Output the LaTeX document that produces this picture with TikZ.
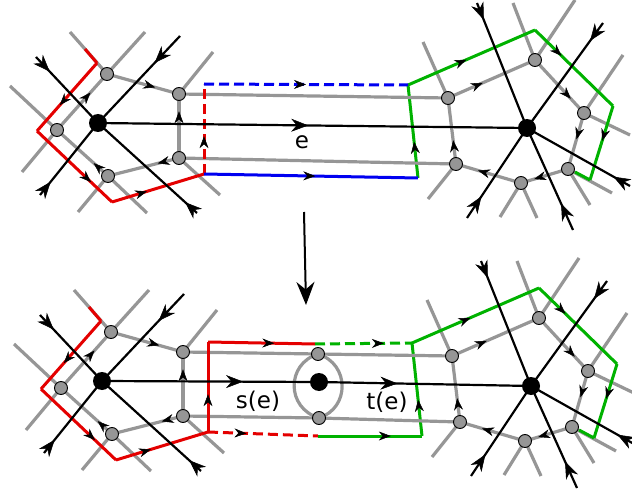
\documentclass[tikz,border=0pt]{standalone}
\usepackage{fontspec}
\setmainfont{DejaVu Sans}
\usetikzlibrary{arrows.meta,decorations.markings}
\definecolor{lgray}{RGB}{150,150,150}
\definecolor{cred}{RGB}{228,0,0}
\definecolor{cgreen}{RGB}{0,178,0}
\definecolor{cblue}{RGB}{0,0,240}
\begin{document}
\begin{tikzpicture}[x=1pt,y=-1pt,
	gline/.style={lgray,line width=3.2pt},
	cline/.style={line width=3pt},
	dashes/.style={dash pattern=on 10pt off 5pt},
	midarr/.style={postaction={decorate,decoration={markings,mark=at position #1 with {\arrow{Stealth[length=12pt,width=9pt,line width=0.5pt,color=black]}}}}},
	ray/.style={black,line width=2.2pt,postaction={decorate,decoration={markings,mark=at position #1 with {\arrow{Stealth[length=17pt,width=13pt,line width=0.5pt]}}}}},
	gnode/.style={circle,draw=black,line width=0.9pt,fill=lgray,inner sep=0pt,minimum size=13pt},
	bnode/.style={circle,fill=black,inner sep=0pt,minimum size=18pt},
	lab/.style={font=\fontsize{23}{26}\selectfont,inner sep=0pt}]
	\useasboundingbox (0,0) rectangle (632,492);
	% both pictures: the two vertices and the faces around them
	\foreach \p/\dx/\dy in {t/0/0,b/4/258}{
	\begin{scope}[shift={(\dx,\dy)}]
		\coordinate (L\p) at (98,123);
		\coordinate (R\p) at (527,128);
		\coordinate (a1\p) at (107,74);  \coordinate (a2\p) at (57,130);
		\coordinate (a3\p) at (108,176); \coordinate (a4\p) at (179,94);
		\coordinate (a5\p) at (179,158);
		\coordinate (b1\p) at (448,98);  \coordinate (b2\p) at (535,60);
		\coordinate (b3\p) at (584,113); \coordinate (b4\p) at (568,169);
		\coordinate (b5\p) at (521,183); \coordinate (b6\p) at (456,164);
		% loose ends
		\coordinate (s1\p) at (70,32);   \coordinate (s2\p) at (145,32);
		\coordinate (s3\p) at (10,86);   \coordinate (s4\p) at (22,172);
		\coordinate (s5\p) at (78,212);  \coordinate (s6\p) at (147,213);
		\coordinate (s7\p) at (213,52);  \coordinate (s8\p) at (220,195);
		\coordinate (t1\p) at (423,42);  \coordinate (t2\p) at (513,3);
		\coordinate (t3\p) at (575,0);   \coordinate (t4\p) at (623,55);
		\coordinate (t5\p) at (630,135); \coordinate (t6\p) at (612,193);
		\coordinate (t7\p) at (590,205); \coordinate (t8\p) at (500,217);
		\coordinate (t9\p) at (537,218); \coordinate (t10\p) at (428,199);
		\coordinate (n1\p) at (36,57);   \coordinate (n2\p) at (180,36);
		\coordinate (n3\p) at (40,195);  \coordinate (n4\p) at (197,213);
		\coordinate (k1\p) at (477,3);   \coordinate (k2\p) at (603,23);
		\coordinate (k3\p) at (630,186); \coordinate (k4\p) at (573,230);
		\coordinate (k5\p) at (467,218);
		% contours
		\coordinate (r0\p) at (85,49);   \coordinate (r1\p) at (97,63);
		\coordinate (r2\p) at (37,131);  \coordinate (r3\p) at (112,202);
		\coordinate (r4\p) at (204,174); \coordinate (r5\p) at (204,84);
		\coordinate (g0\p) at (408,85);  \coordinate (g1\p) at (535,30);
		\coordinate (g2\p) at (613,106); \coordinate (g3\p) at (590,180);
		\coordinate (g4\p) at (575,172); \coordinate (g5\p) at (418,178);
	\end{scope}
	% gray graph
	\foreach \u/\v in {a1/s1,a1/s2,a2/s3,a2/s4,a3/s5,a3/s6,a4/s7,a5/s8,
		b1/t1,b2/t2,b2/t3,b3/t4,b3/t5,b4/t6,b4/t7,b5/t8,b5/t9,b6/t10}
		\draw[gline] (\u\p) -- (\v\p);
	\foreach \u/\v/\q in {a1/a4/0.67,a5/a4/0.73,a5/a3/0.3,a3/a2/0.28,a2/a1/0.67,
		b1/b2/0.4,b2/b3/0.73,b3/b4/0.47,b4/b5/0.72,b5/b6/0.66,b6/b1/0.36}
		\draw[gline,midarr=\q] (\u\p) -- (\v\p);
	% red and green boundaries
	\draw[cline,cred] (r0\p) -- (r1\p);
	\draw[cline,cred,midarr=0.62] (r1\p) -- (r2\p);
	\draw[cline,cred,midarr=0.72] (r2\p) -- (r3\p);
	\draw[cline,cred,midarr=0.38] (r3\p) -- (r4\p);
	\draw[cline,cgreen,midarr=0.46] (g0\p) -- (g1\p);
	\draw[cline,cgreen,midarr=0.34] (g1\p) -- (g2\p);
	\draw[cline,cgreen,midarr=0.47] (g2\p) -- (g3\p);
	\draw[cline,cgreen] (g3\p) -- (g4\p);
	\draw[cline,cgreen,midarr=0.39] (g5\p) -- (g0\p);
	% black edges
	\foreach \c/\o/\d in {L/n1/20pt,L/n2/37pt,L/n3/17pt,L/n4/16pt,
		R/k1/18pt,R/k2/22pt,R/k3/19pt,R/k4/29pt,R/k5/26pt}
		\draw[ray=\d] (\o\p) -- (\c\p);
	}
	% top: the edge e
	\draw[gline] (a4t) -- (b1t);
	\draw[gline] (a5t) -- (b6t);
	\draw[cline,cred,dashes,midarr=0.42] (r4t) -- (r5t);
	\draw[cline,cblue,dashes,midarr=0.5] (r5t) -- (g0t);
	\draw[cline,cblue,midarr=0.52] (r4t) -- (g5t);
	\draw[ray=0.49] (Lt) -- (Rt);
	\node[lab] (elab) at (302,142) {e};
	% arrow between
	\coordinate (from) at (304,212);
	\coordinate (to) at (306,305);
	\draw[line width=2pt,-{Stealth[length=23pt,width=18pt]}] (from) -- (to);
	% bottom: the edge split
	\coordinate (M) at (319,382);
	\coordinate (mu) at (318,354);
	\coordinate (md) at (319,418);
	\coordinate (cu) at (315,344);
	\coordinate (cd) at (318,436);
	\draw[gline] (a4b) -- (mu) -- (b1b);
	\draw[gline] (a5b) -- (md) -- (b6b);
	\draw[gline] (mu) .. controls (286,364) and (286,408) .. (md);
	\draw[gline] (mu) .. controls (350,364) and (350,408) .. (md);
	\draw[cline,cred,midarr=0.42] (r4b) -- (r5b);
	\draw[cline,cred,midarr=0.62] (r5b) -- (cu);
	\draw[cline,cgreen,dashes,midarr=0.71] (cu) -- (g0b);
	\draw[cline,cred,dashes,midarr=0.35] (r4b) -- (cd);
	\draw[cline,cgreen,midarr=0.7] (cd) -- (g5b);
	\draw[ray=0.65] (Lb) -- (M);
	\draw[ray=0.37] (M) -- (Rb);
	\node[lab] (slab) at (258,401) {s(e)};
	\node[lab] (tlab) at (387,402) {t(e)};
	% vertices on top
	\foreach \p in {t,b}{
		\foreach \v in {a1,a2,a3,a4,a5,b1,b2,b3,b4,b5,b6}
			\node[gnode] (\v\p n) at (\v\p) {};
		\node[bnode] (L\p n) at (L\p) {};
		\node[bnode] (R\p n) at (R\p) {};
	}
	\node[gnode] (mun) at (mu) {};
	\node[gnode] (mdn) at (md) {};
	\node[bnode] (Mn) at (M) {};
\end{tikzpicture}
\end{document}
